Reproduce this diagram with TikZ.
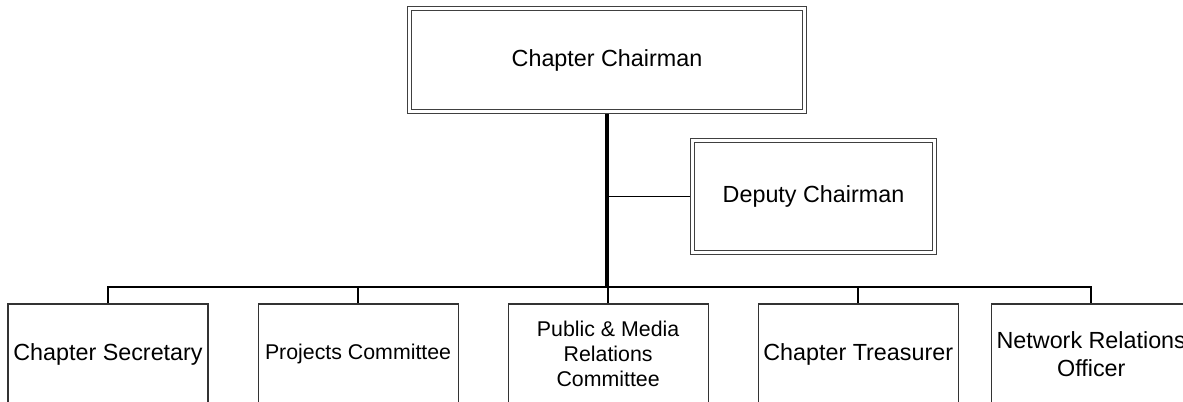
\documentclass[tikz,border=0pt]{standalone}
\usepackage{fontspec}
\setmainfont{Liberation Sans}
\usetikzlibrary{positioning,backgrounds}

\begin{document}
\begin{tikzpicture}[x=0.75pt,y=-0.75pt,
    office/.style={draw=black!75, double, double distance=2pt, line width=0.8pt,
      fill=white, align=center, font=\fontsize{17.5}{19.5}\selectfont},
    member/.style={draw=black!80, line width=0.8pt, fill=white,
      minimum width=150pt, minimum height=75pt, inner sep=1pt,
      align=center, font=\fontsize{17.5}{19.5}\selectfont},
    small/.style={font=\fontsize{16}{18.75}\selectfont},
    link/.style={line width=1.2pt},
    trunk/.style={line width=2.4pt},
    node distance=36.75pt]

    \useasboundingbox (0,0) rectangle (1183,402);
    \clip (0,0) rectangle (1183,402);

    % Define nodes

    \node[office, minimum width=296.4pt, minimum height=77.4pt] (chair) at (607,60) {Chapter Chairman}; %
    \node[office, minimum width=181.6pt, minimum height=84pt]   (deputy) at (813.5,196.5) {Deputy Chairman}; %

    \node[member]                        (secretary) at (108,354) {Chapter Secretary}; %
    \node[member, small, right=of secretary] (projects) {Projects Committee}; %
    \node[member, small, right=of projects]  (media) {Public \& Media\\Relations\\Committee}; %
    \node[member, right=of media]        (treasurer) {Chapter Treasurer}; %
    \node[member, font=\fontsize{17.5}{21.5}\selectfont,
          right=24pt of treasurer]       (network) {Network Relations\\Officer}; %

    \coordinate (bus) at (607,287);

    % Connect the nodes
    \begin{scope}[on background layer]
      \draw[trunk] (chair.south) -- (bus);
      \draw[link, line width=1pt] (chair.south |- deputy.west) -- (deputy.west);
      \foreach \n in {secretary, projects, media, treasurer, network}
        \draw[link] (bus) -| (\n.north);
    \end{scope}

\end{tikzpicture}
\end{document}
